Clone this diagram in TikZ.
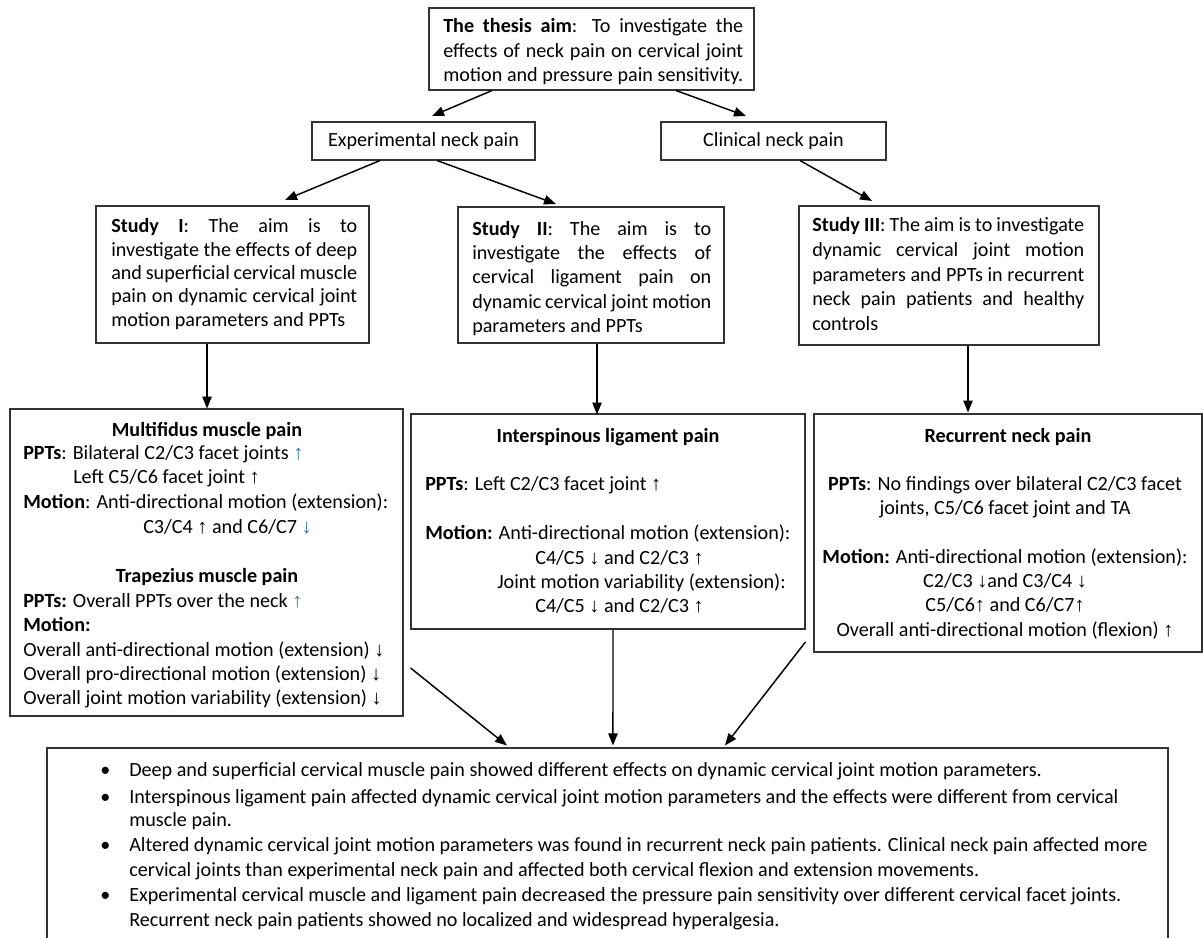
\documentclass[tikz,border=0pt]{standalone}
\usepackage{fontspec}
\setmainfont{Carlito}
\newfontfamily\arrfont{Liberation Sans}
\usetikzlibrary{arrows.meta}
\definecolor{arrblue}{HTML}{2E75B6}
\newcommand\myup{{\arrfont ↑}}
\newcommand\mydn{{\arrfont ↓}}
\newcommand\myupb{{\color{arrblue}\arrfont ↑}}
\newcommand\mydnb{{\color{arrblue}\arrfont ↓}}
\newcommand\spr[2]{\makebox[#1][s]{#2}}
\begin{document}
\begin{tikzpicture}[x=0.75pt,y=-0.75pt,
  font=\fontsize{15.1}{18}\selectfont,
  box/.style={draw=black!80,line width=0.8pt,inner sep=0pt},
  ln/.style={inner sep=0pt,anchor=base west},
  lc/.style={inner sep=0pt,anchor=base},
  arr/.style={line width=1.1pt,-{Triangle[length=9pt,width=7pt]}}]
\useasboundingbox (0,0) rectangle (1203,938);
% boxes
\node[box,minimum width=243.75pt,minimum height=61.5pt] (aim) at (591.5,49) {};
\node[box,minimum width=167.25pt,minimum height=28.5pt] (exp) at (423.5,141) {Experimental neck pain};
\node[box,minimum width=168.75pt,minimum height=28.5pt] (clin) at (773.5,141) {Clinical neck pain};
\node[box,minimum width=204.75pt,minimum height=102.75pt] (s1) at (232.5,274.5) {};
\node[box,minimum width=199.5pt,minimum height=102pt] (s2) at (591,275) {};
\node[box,minimum width=225pt,minimum height=104.25pt] (s3) at (949,275.5) {};
\node[box,minimum width=294.75pt,minimum height=230.25pt] (mult) at (206.5,562.5) {};
\node[box,minimum width=295.5pt,minimum height=161.25pt] (int) at (608,521.5) {};
\node[box,minimum width=291pt,minimum height=178.5pt] (rec) at (1008,533) {};
\node[box,minimum width=840.75pt,minimum height=159pt] (bot) at (607.5,854) {};
% aim text
\node[ln] (aim1) at (443,33) {\spr{225pt}{\textbf{The thesis aim}: To investigate the}};
\node[ln] (aim2) at (443,58) {\spr{225pt}{effects of neck pain on cervical joint}};
\node[ln] (aim3) at (443,82) {\spr{225pt}{motion and pressure pain sensitivity.}};
% study I
\node[ln] (s1a) at (111,233) {\spr{184.5pt}{\textbf{Study I}: The aim is to}};
\node[ln] (s1b) at (111,256) {\spr{184.5pt}{investigate the effects of deep}};
\node[ln] (s1c) at (111,279) {\spr{184.5pt}{and superficial cervical muscle}};
\node[ln] (s1d) at (111,302) {\spr{184.5pt}{pain on dynamic cervical joint}};
\node[ln] (s1e) at (111,326) {motion parameters and PPTs};
% study II
\node[ln] (s2a) at (472,235) {\spr{179.25pt}{\textbf{Study II}: The aim is to}};
\node[ln] (s2b) at (472,259) {\spr{179.25pt}{investigate the effects of}};
\node[ln] (s2c) at (472,283) {\spr{179.25pt}{cervical ligament pain on}};
\node[ln] (s2d) at (472,308) {\spr{179.25pt}{dynamic cervical joint motion}};
\node[ln] (s2e) at (472,332) {parameters and PPTs};
% study III
\node[ln] (s3a) at (812,232) {\spr{204pt}{\textbf{Study III}: The aim is to investigate}};
\node[ln] (s3b) at (812,256) {\spr{204pt}{dynamic cervical joint motion}};
\node[ln] (s3c) at (812,281) {\spr{204pt}{parameters and PPTs in recurrent}};
\node[ln] (s3d) at (812,305) {\spr{204pt}{neck pain patients and healthy}};
\node[ln] (s3e) at (812,330) {controls};
% multifidus / trapezius
\node[lc] (m1) at (207,436) {\textbf{Multifidus muscle pain}};
\node[ln] (m2) at (23,459) {\textbf{PPTs}: Bilateral C2/C3 facet joints \myupb};
\node[ln] (m3) at (73,483) {Left C5/C6 facet joint \myup};
\node[ln] (m4) at (23,508) {\textbf{Motion}: Anti-directional motion (extension):};
\node[ln] (m5) at (143,533) {C3/C4 \myup\ and C6/C7 \mydnb};
\node[lc] (m6) at (207,582) {\textbf{Trapezius muscle pain}};
\node[ln] (m7) at (23,607) {\textbf{PPTs:} Overall PPTs over the neck \myupb};
\node[ln] (m8) at (23,631) {\textbf{Motion:}};
\node[ln] (m9) at (23,656) {Overall anti-directional motion (extension) \mydn};
\node[ln] (m10) at (23,680) {Overall pro-directional motion (extension) \mydn};
\node[ln] (m11) at (23,704) {Overall joint motion variability (extension) \mydn};
% interspinous
\node[lc] (i1) at (608,442) {\textbf{Interspinous ligament pain}};
\node[ln] (i2) at (425,490) {\textbf{PPTs}: Left C2/C3 facet joint \myup};
\node[ln] (i3) at (425,539) {\textbf{Motion:} Anti-directional motion (extension):};
\node[ln] (i4) at (535,564) {C4/C5 \mydn\ and C2/C3 \myup};
\node[ln] (i5) at (497,588) {Joint motion variability (extension):};
\node[ln] (i6) at (535,612) {C4/C5 \mydn\ and C2/C3 \myup};
% recurrent
\node[lc] (r1) at (1008,442) {\textbf{Recurrent neck pain}};
\node[lc] (r2) at (1005,490) {\textbf{PPTs}: No findings over bilateral C2/C3 facet};
\node[lc] (r3) at (1005,514) {joints, C5/C6 facet joint and TA};
\node[lc] (r4) at (1005,563) {\textbf{Motion:} Anti-directional motion (extension):};
\node[lc] (r5) at (1005,587) {C2/C3 \mydn and C3/C4 \mydn};
\node[lc] (r6) at (1005,611) {C5/C6\myup\ and C6/C7\myup};
\node[lc] (r7) at (1005,636) {Overall anti-directional motion (flexion) \myup};
% bottom bullets
\node[ln] (b1) at (100,776) {\textbullet};
\node[ln] (b2) at (100,803) {\textbullet};
\node[ln] (b3) at (100,851) {\textbullet};
\node[ln] (b4) at (100,901) {\textbullet};
\node[ln] (t1) at (129,776) {Deep and superficial cervical muscle pain showed different effects on dynamic cervical joint motion parameters.};
\node[ln] (t2) at (129,803) {Interspinous ligament pain affected dynamic cervical joint motion parameters and the effects were different from cervical};
\node[ln] (t2b) at (129,826) {muscle pain.};
\node[ln] (t3) at (129,851) {Altered dynamic cervical joint motion parameters was found in recurrent neck pain patients. Clinical neck pain affected more};
\node[ln] (t3b) at (129,876) {cervical joints than experimental neck pain and affected both cervical flexion and extension movements.};
\node[ln] (t4) at (129,901) {Experimental cervical muscle and ligament pain decreased the pressure pain sensitivity over different cervical facet joints.};
\node[ln] (t4b) at (129,926) {Recurrent neck pain patients showed no localized and widespread hyperalgesia.};
% connector end points
\coordinate (e1) at (432,116);
\coordinate (e2) at (746,116);
\coordinate (e3) at (285,200);
\coordinate (e4) at (556,204);
\coordinate (e5) at (872,201);
% connectors
\draw[arr] ([xshift=-74.63pt]aim.south) -- (e1);
\draw[arr] ([xshift=63.38pt]aim.south) -- (e2);
\draw[arr] ([xshift=-32.63pt]exp.south) -- (e3);
\draw[arr] ([xshift=10.13pt]exp.south) -- (e4);
\draw[arr] ([xshift=19.88pt]clin.south) -- (e5);
\draw[arr] ([xshift=-19.1pt]s1.south) -- ++(0,65);
\draw[arr] ([xshift=4.5pt]s2.south) -- ++(0,71);
\draw[arr] ([xshift=14.25pt]s3.south) -- ++(0,67);
\draw[arr] ([xshift=5.25pt,yshift=-79.1pt]mult.east) -- ([xshift=-75.4pt,yshift=1.5pt]bot.north);
\draw[arr] ([xshift=3.75pt]int.south) -- ([xshift=4.1pt,yshift=1.5pt]bot.north);
\draw[arr] ([xshift=-6pt,yshift=-81.75pt]rec.west) -- ([xshift=88.1pt,yshift=1.5pt]bot.north);
\end{tikzpicture}
\end{document}
